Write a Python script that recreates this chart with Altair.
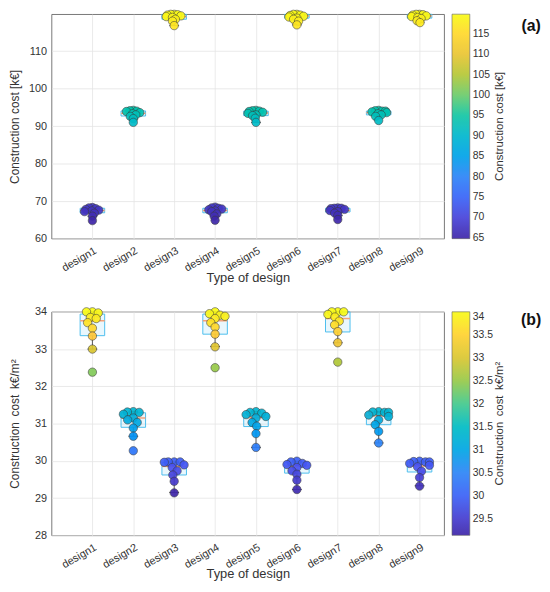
import altair as alt
import numpy as np
import pandas as pd

designs = [f"design{i}" for i in range(1, 10)]

# ---- panel (a): construction cost [k€] ----
cost_a = [
    [68.3, 68.2, 68.0, 67.8, 67.6, 67.4, 67.2, 66.8, 66.0, 64.8],
    [94.2, 94.1, 94.0, 93.9, 93.6, 93.3, 93.0, 92.6, 92.0, 91.0],
    [119.8, 119.8, 119.7, 119.6, 119.4, 119.2, 119.0, 118.5, 118.0, 116.8],
    [68.4, 68.2, 68.1, 67.9, 67.7, 67.4, 67.2, 66.6, 66.0, 64.9],
    [94.2, 94.1, 94.0, 93.9, 93.7, 93.4, 93.0, 92.8, 92.1, 91.0],
    [119.8, 119.8, 119.6, 119.5, 119.3, 119.1, 118.8, 118.5, 118.0, 117.0],
    [68.2, 68.1, 68.1, 68.0, 67.8, 67.5, 67.2, 66.8, 66.2, 65.1],
    [94.2, 94.1, 94.0, 94.0, 93.8, 93.6, 93.3, 93.0, 92.6, 91.5],
    [119.8, 119.8, 119.7, 119.6, 119.4, 119.2, 119.0, 118.7, 118.1, 117.6],
]
q1_a = [66.9, 92.7, 118.5, 66.9, 92.8, 118.8, 67.1, 93.0, 118.8]
med_a = [67.5, 93.4, 119.2, 67.5, 93.5, 119.4, 67.5, 93.6, 119.4]
q3_a = [68.1, 94.05, 119.8, 68.1, 94.0, 119.8, 68.1, 94.0, 119.8]
lo_a = [66.0, 91.9, 116.8, 66.0, 91.0, 117.0, 66.2, 92.6, 117.6]
hi_a = [68.3, 94.2, 119.8, 68.4, 94.2, 119.8, 68.2, 94.2, 119.8]

# ---- panel (b): construction cost per m² ----
cost_b = [
    [34.0, 34.0, 33.97, 33.85, 33.82, 33.71, 33.56, 33.35, 33.0, 32.38],
    [31.32, 31.31, 31.30, 31.25, 31.15, 31.10, 31.03, 30.88, 30.66, 30.27],
    [29.97, 29.97, 29.97, 29.96, 29.89, 29.82, 29.73, 29.62, 29.45, 29.14],
    [34.0, 33.95, 33.91, 33.88, 33.82, 33.71, 33.59, 33.40, 33.06, 32.50],
    [31.32, 31.30, 31.28, 31.24, 31.19, 31.15, 31.03, 30.93, 30.73, 30.36],
    [29.99, 29.97, 29.93, 29.90, 29.88, 29.82, 29.73, 29.64, 29.48, 29.23],
    [34.0, 34.0, 34.0, 33.93, 33.86, 33.75, 33.65, 33.47, 33.17, 32.65],
    [31.32, 31.31, 31.30, 31.30, 31.23, 31.19, 31.10, 30.97, 30.79, 30.48],
    [29.99, 29.98, 29.97, 29.97, 29.93, 29.88, 29.84, 29.72, 29.55, 29.32],
]
q1_b = [33.36, 30.90, 29.62, 33.40, 30.92, 29.67, 33.46, 30.97, 29.70]
med_b = [33.76, 31.15, 29.85, 33.76, 31.16, 29.86, 33.82, 31.21, 29.86]
q3_b = [33.94, 31.29, 29.95, 33.94, 31.28, 29.96, 34.0, 31.30, 29.97]
lo_b = [33.0, 30.66, 29.15, 33.07, 30.36, 29.23, 33.17, 30.48, 29.33]
hi_b = [34.0, 31.32, 29.97, 34.0, 31.32, 29.99, 34.0, 31.32, 29.99]

# parula-like colormap stops
parula = ["#3E26A8", "#4852F4", "#2E87F7", "#12B1D6", "#37C897", "#ABC739", "#FEC338", "#F9FB15"]

W = 397
X_DOMAIN = [0, 9.6]
FONT = "Liberation Sans"
TXT = "#333333"


def swarm(vals, px_x, px_y, diam, maxoff):
    placed = []
    offs = {}
    order = sorted(range(len(vals)), key=lambda i: -vals[i])
    for i in order:
        y = vals[i] * px_y
        cands = [0.0]
        for px, py in placed:
            dy = abs(py - y)
            if dy < diam:
                dx = np.sqrt(diam ** 2 - dy ** 2)
                cands += [px + dx, px - dx]
        ok = [c for c in cands
              if all((c - px) ** 2 + (y - py) ** 2 >= diam ** 2 - 1e-6 for px, py in placed)]
        best = min(ok, key=lambda c: (abs(c), c))
        best = max(-maxoff, min(maxoff, best))
        placed.append((best, y))
        offs[i] = best / px_x
    return [offs[i] for i in range(len(vals))]


def panel(values, q1, med, q3, lo, hi, H, ydom, yticks, ytitle, ltitle, lvals, lfmt, tag, tag_y,
          sw_diam, sw_max):
    px_x = W / (X_DOMAIN[1] - X_DOMAIN[0])
    px_y = H / (ydom[1] - ydom[0])
    rows = []
    for k, vals in enumerate(values):
        offs = swarm(vals, px_x, px_y, sw_diam, sw_max)
        for v, o in zip(vals, offs):
            rows.append({"design": designs[k], "xpos": k + 1 + o, "value": v})
    pts = pd.DataFrame(rows)
    pos = np.arange(1, 10)
    box = pd.DataFrame({
        "design": designs, "pos": pos, "q1": q1, "med": med, "q3": q3, "lo": lo, "hi": hi,
        "bx1": pos - 0.3, "bx2": pos + 0.3, "cx1": pos - 0.12, "cx2": pos + 0.12,
    })
    allv = [v for vs in values for v in vs]
    vmin, vmax = min(allv), max(allv)
    cdom = list(np.linspace(vmin, vmax, len(parula)))

    xs = alt.Scale(domain=X_DOMAIN, nice=False, zero=False)
    ys = alt.Scale(domain=ydom, nice=False, zero=False)
    xaxis = alt.Axis(values=list(range(1, 10)), labelExpr="'design' + datum.value",
                     labelAngle=-30, labelAlign="right", labelBaseline="top", labelPadding=6,
                     title="Type of design", grid=True, ticks=False, domain=False,
                     titleY=33, titleBaseline="top", titleFontSize=13)
    yaxis = alt.Axis(values=yticks, grid=True, ticks=False, domain=False, title=ytitle,
                     labelPadding=5, titleX=-30, titleBaseline="bottom", titleFontSize=12)

    def X(f):
        return alt.X(f, scale=xs, axis=xaxis)

    def Y(f):
        return alt.Y(f, scale=ys, axis=yaxis)

    base = alt.Chart(box)
    rect = base.mark_rect(fill="#4DBEEE", fillOpacity=0.12, stroke="#4DBEEE", strokeWidth=1).encode(
        x=X("bx1:Q"), x2="bx2", y=Y("q1:Q"), y2="q3")
    wl = base.mark_rule(color="#555555", strokeWidth=1).encode(x=X("pos:Q"), y=Y("lo:Q"), y2="q1")
    wh = base.mark_rule(color="#555555", strokeWidth=1).encode(x=X("pos:Q"), y=Y("q3:Q"), y2="hi")
    capl = base.mark_rule(color="#555555", strokeWidth=1).encode(x=X("cx1:Q"), x2="cx2", y=Y("lo:Q"))
    caph = base.mark_rule(color="#555555", strokeWidth=1).encode(x=X("cx1:Q"), x2="cx2", y=Y("hi:Q"))
    medr = base.mark_rule(color="#F5A27A", strokeWidth=1.5).encode(x=X("bx1:Q"), x2="bx2", y=Y("med:Q"))

    legend = alt.Legend(
        orient="none", legendX=W + 8, legendY=0, direction="vertical",
        gradientLength=H, gradientThickness=18, title=None, values=lvals, format=lfmt,
        labelFontSize=10.5, labelOverlap=False, labelOffset=3,
        gradientStrokeColor="#555555", gradientStrokeWidth=0.6)
    points = alt.Chart(pts).mark_point(shape="circle", filled=True, size=72, opacity=0.92,
                                       stroke="#3a3a3a", strokeWidth=0.6).encode(
        x=X("xpos:Q"), y=Y("value:Q"),
        fill=alt.Fill("value:Q", scale=alt.Scale(domain=cdom, range=parula), legend=legend),
    )
    label = alt.Chart(pd.DataFrame({"t": [tag]})).mark_text(
        fontSize=16, fontWeight="bold", font=FONT, color="#111111", align="center",
        baseline="middle").encode(text="t:N", x=alt.value(W + 88), y=alt.value(tag_y))
    ltext = alt.Chart(pd.DataFrame({"t": [ltitle]})).mark_text(
        fontSize=11.5, font=FONT, color=TXT, angle=270, align="center", baseline="middle").encode(
        text="t:N", x=alt.value(W + 57), y=alt.value(H / 2))
    return alt.layer(rect, wl, wh, capl, caph, medr, points, label, ltext).properties(width=W, height=H)


top = panel(cost_a, q1_a, med_a, q3_a, lo_a, hi_a, 227, [60, 119.85],
            [60, 70, 80, 90, 100, 110], "Construction cost [k€]",
            "Construction cost [k€]", [65, 70, 75, 80, 85, 90, 95, 100, 105, 110, 115], "d",
            "(a)", 12, 3.5, 8.0)
bottom = panel(cost_b, q1_b, med_b, q3_b, lo_b, hi_b, 226, [28, 34],
               [28, 29, 30, 31, 32, 33, 34], "Construction\u2009 cost\u2009 k€/m²",
               "Construction\u2009 cost\u2009 k€/m²",
               [29.5, 30, 30.5, 31, 31.5, 32, 32.5, 33, 33.5, 34], ".1~f",
               "(b)", 8, 6.0, 10.0)

chart = alt.vconcat(top, bottom, spacing=74, bounds="flush").resolve_scale(
    fill="independent").properties(padding={"left": 0, "top": -3, "right": 0, "bottom": 0}).configure_view(
    stroke="#555555", strokeWidth=0.8).configure_axis(
    labelFont=FONT, titleFont=FONT, labelFontSize=11, titleFontWeight="normal",
    labelColor=TXT, titleColor=TXT, gridColor="#e4e4e4", gridWidth=0.8).configure_legend(
    labelFont=FONT, titleFont=FONT, labelColor=TXT, titleColor=TXT)

chart.save("out.html", embed_options={"renderer": "svg", "actions": False})
